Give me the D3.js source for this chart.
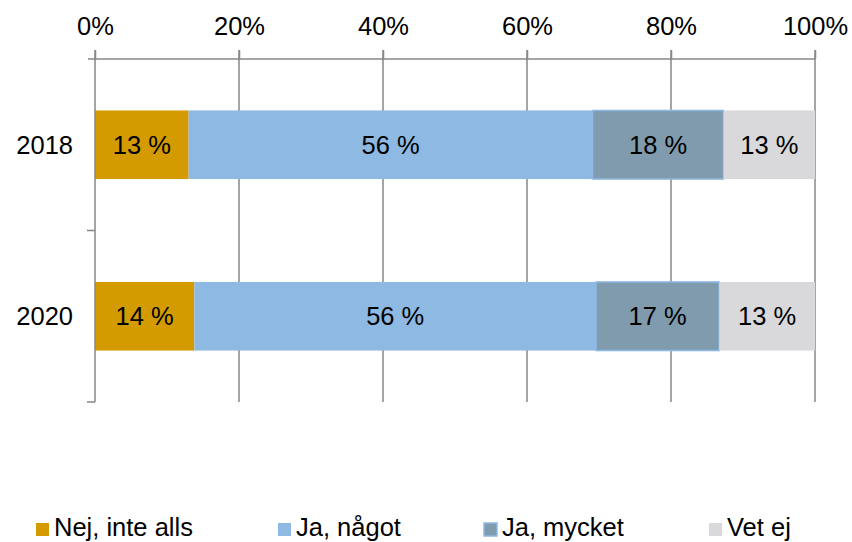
<!DOCTYPE html>
<html><head><meta charset="utf-8">
<script src="https://cdn.jsdelivr.net/npm/d3@7"></script>
<style>body{margin:0;background:#fff}svg{display:block;font-family:"Liberation Sans",Arial,sans-serif}</style>
</head><body><svg id="c" width="852" height="542"></svg>
<script>
const years = ["2018", "2020"];
const seriesNames = ["Nej, inte alls", "Ja, något", "Ja, mycket", "Vet ej"];
const nejInteAlls = [13.0, 13.8];
const jaNagot = [56.1, 55.8];
const jaMycket = [18.2, 17.1];
const vetEj = [12.7, 13.3];
const xTicks = [0, 20, 40, 60, 80, 100];

const colors = ["#D39B00", "#8EB9E3", "#7F9BAD", "#D9D9DB"];
const strokes = [null, null, "#8EB9E3", null];
const seriesVals = [nejInteAlls, jaNagot, jaMycket, vetEj];

const svg = d3.select("#c");
const pL = 95, pR = 815, pT = 59, pB = 402;
const x = d3.scaleLinear().domain([0, 100]).range([pL, pR]);
const y = d3.scaleBand().domain(years).range([pT, pB]).paddingInner(0.6).paddingOuter(0.3);
const grey = "#878787";
const fs = "25.5px";

// gridlines + top ticks
svg.append("g").selectAll("line").data(xTicks.slice(1)).join("line")
  .attr("x1", d => x(d)).attr("x2", d => x(d)).attr("y1", pT - 9).attr("y2", pB)
  .attr("stroke", grey).attr("stroke-width", 1.5);

// stacked bars
const rows = years.map((yr, i) => {
  let acc = 0;
  return seriesVals.map((s, k) => { const v = s[i]; const seg = {yr, k, x0: acc, x1: acc + v, v}; acc += v; return seg; });
});
const segs = rows.flat();
svg.append("g").selectAll("rect").data(segs).join("rect")
  .attr("x", d => x(d.x0)).attr("width", d => x(d.x1) - x(d.x0))
  .attr("y", d => y(d.yr)).attr("height", y.bandwidth())
  .attr("fill", d => colors[d.k])
  .attr("stroke", d => strokes[d.k] || "none").attr("stroke-width", 1.5);

svg.append("g").selectAll("text").data(segs).join("text")
  .attr("x", d => (x(d.x0) + x(d.x1)) / 2).attr("y", d => y(d.yr) + y.bandwidth() / 2)
  .attr("text-anchor", "middle").attr("dominant-baseline", "central")
  .attr("font-size", fs).attr("fill", "#000")
  .text(d => Math.round(d.v) + " %");

// top axis
const ax = svg.append("g").attr("transform", `translate(0,${pT})`)
  .call(d3.axisTop(x).tickValues(xTicks).tickFormat(d => d + "%").tickSize(9).tickSizeOuter(0));
ax.select(".domain").remove();
ax.selectAll("line").attr("stroke", grey).attr("stroke-width", 1.5);
ax.selectAll("text").attr("font-size", fs).attr("font-family", "Liberation Sans, Arial, sans-serif").attr("fill", "#000").attr("y", -24);
svg.append("line").attr("x1", pL - 7).attr("x2", pR).attr("y1", pT).attr("y2", pT)
  .attr("stroke", grey).attr("stroke-width", 1.5);

// left axis
svg.append("line").attr("x1", pL).attr("x2", pL).attr("y1", pT - 9).attr("y2", pB)
  .attr("stroke", grey).attr("stroke-width", 1.5);
const bounds = [(y("2018") + y("2020") + y.bandwidth()) / 2, pB];
svg.append("g").selectAll("line").data(bounds).join("line")
  .attr("x1", pL - 8).attr("x2", pL).attr("y1", d => d).attr("y2", d => d)
  .attr("stroke", grey).attr("stroke-width", 1.5);
svg.append("g").selectAll("text").data(years).join("text")
  .attr("x", 73).attr("y", d => y(d) + y.bandwidth() / 2)
  .attr("text-anchor", "end").attr("dominant-baseline", "central")
  .attr("font-size", fs).text(d => d);

// legend
const legX = [36, 278, 484, 709];
const lg = svg.append("g").selectAll("g").data(seriesNames).join("g")
  .attr("transform", (d, i) => `translate(${legX[i]},0)`);
lg.append("rect").attr("x", 0).attr("y", 523).attr("width", 13).attr("height", 13)
  .attr("fill", (d, i) => colors[i]).attr("stroke", (d, i) => strokes[i] || "none").attr("stroke-width", 1.5);
lg.append("text").attr("x", 18).attr("y", 536).attr("font-size", fs).text(d => d);
</script></body></html>
